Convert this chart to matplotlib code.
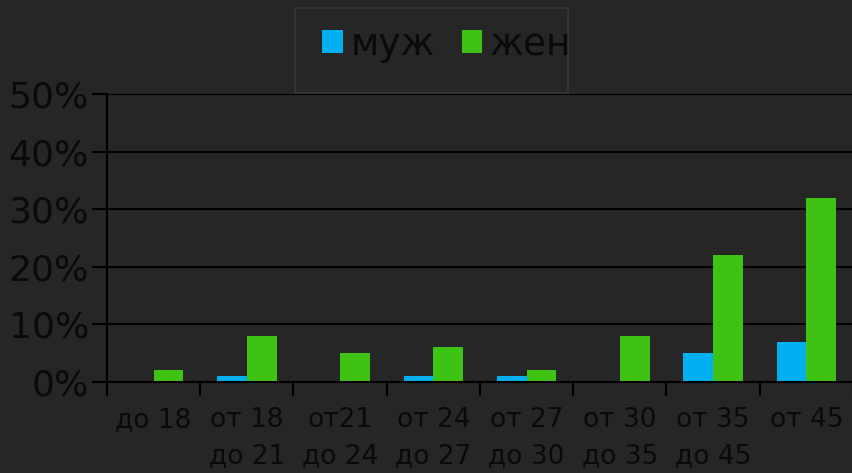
import matplotlib
matplotlib.use('Agg')
import numpy as np
import matplotlib.pyplot as plt
from matplotlib.patches import Rectangle
from matplotlib.ticker import FixedLocator, PercentFormatter

# Data
categories = ['до 18', 'от 18\nдо 21', 'от21\nдо 24', 'от 24\nдо 27',
              'от 27\nдо 30', 'от 30\nдо 35', 'от 35\nдо 45', 'от 45']
men = [0, 1, 0, 1, 1, 0, 5, 7]
women = [2, 8, 5, 6, 2, 8, 22, 32]
series_names = ['муж', 'жен']

BG = '#262626'
TXT = '#0a0a0a'
BLUE = '#00b0f0'
GREEN = '#3ec314'

plt.rcParams['font.family'] = ['DejaVu Sans']

W, H = 853, 473
fig = plt.figure(figsize=(W / 100, H / 100), dpi=100, facecolor=BG)
ax = fig.add_axes([107 / W, 1 - 382 / H, 1 - 107 / W, (382 - 94) / H])
ax.set_facecolor(BG)

x = np.arange(len(categories))
w = 0.32
ax.bar(x - w / 2, men, width=w, color=BLUE, label=series_names[0], zorder=3)
ax.bar(x + w / 2, women, width=w, color=GREEN, label=series_names[1], zorder=3)

ax.set_xlim(-0.5, len(categories) - 0.5)
ax.set_ylim(0, 50)
ax.set_yticks([0, 10, 20, 30, 40, 50])
ax.yaxis.set_major_formatter(PercentFormatter(decimals=0))
ax.grid(axis='y', color='black', linewidth=1.5, zorder=1)

# category boundary ticks, labels at centers
ax.xaxis.set_major_locator(FixedLocator(np.arange(len(categories) + 1) - 0.5))
ax.xaxis.set_minor_locator(FixedLocator(x))
ax.set_xticklabels([''] * (len(categories) + 1))
ax.set_xticklabels(categories, minor=True, fontsize=19, color=TXT,
                   linespacing=1.5, va='top')
ax.tick_params(axis='x', which='major', length=10, width=1.5, color='black', direction='out')
ax.tick_params(axis='x', which='minor', length=0, pad=18)
ax.tick_params(axis='y', length=11, width=1.5, color='black', labelsize=26,
               labelcolor=TXT, pad=2)

for s in ['top', 'right']:
    ax.spines[s].set_visible(False)
for s in ['left', 'bottom']:
    ax.spines[s].set_color('black')
    ax.spines[s].set_linewidth(1.5)
    ax.spines[s].set_zorder(4)

# legend box drawn separately (text nearly touches its right edge)
fig.patches.append(Rectangle((295 / W, 1 - 93 / H), (568 - 295) / W, (93 - 8) / H,
                             transform=fig.transFigure, facecolor=BG,
                             edgecolor='#363636', linewidth=1.2))
leg = fig.legend(loc='center left', bbox_to_anchor=(322 / W, 1 - 45 / H), ncol=2,
                 frameon=False, fontsize=27, handlelength=0.55, handleheight=0.55,
                 handletextpad=0.2, columnspacing=0.72, borderpad=0.0,
                 borderaxespad=0.0)
for t in leg.get_texts():
    t.set_color(TXT)

plt.savefig('out.png', dpi=100, facecolor=BG)
plt.close()
